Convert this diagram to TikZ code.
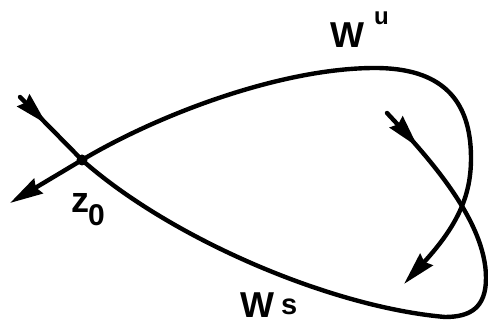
\documentclass[tikz,border=0pt]{standalone}
\usepackage{fontspec}
\setmainfont{Liberation Sans}
\usepackage{tikz}
\usetikzlibrary{arrows.meta,decorations.markings}
\newcommand{\LabBig}{\fontsize{36}{40}\selectfont\bfseries}
\newcommand{\LabSup}{\fontsize{24}{28}\selectfont\bfseries}
\newcommand{\LabSub}{\fontsize{29}{32}\selectfont\bfseries}
\newcommand{\LabIdx}{\fontsize{30}{32}\selectfont\bfseries}

\begin{document}
\begin{tikzpicture}[x=1pt,y=1pt,
    >={Stealth[length=33pt,width=17pt,inset=3pt]},
    mani/.style={line width=4.4pt, line cap=round, line join=round},
    inarrows/.style={postaction={decorate,decoration={markings,
        mark=at position 38pt with {\arrow{>}},
        mark=at position -46pt with {\arrowreversed{>}}}}},
    fixpt/.style={circle, fill=black, inner sep=0pt, minimum size=11pt},
    lbl/.style={anchor=base west, inner sep=0pt}]
  \useasboundingbox (0,0) rectangle (488,323);
  % points on the two manifolds
  \coordinate (z0) at (82,163);
  \coordinate (u0) at (10,120);
  \coordinate (top) at (375,255);
  \coordinate (rgt) at (471,165);
  \coordinate (u1) at (404,39);
  \coordinate (s0) at (20,226);
  \coordinate (bot) at (445,6);
  \coordinate (edge) at (486,45);
  \coordinate (s1) at (387,210);
  % unstable manifold
  \draw[mani,<->] (u0) -- (z0) .. controls (161,210) and (283,255) .. (top)
    .. controls (440,255) and (471,225) .. (rgt)
    .. controls (471,130) and (460,100) .. (u1);
  % stable manifold
  \draw[mani,inarrows] (s0) -- (z0) .. controls (170,85) and (330,16) .. (bot)
    .. controls (470,6) and (486,15) .. (edge)
    .. controls (486,103) and (426.6,167.6) .. (s1);
  \node[fixpt] (z0dot) at (z0) {};
  \node[lbl] (wu) at (330,275) {\LabBig W\hspace{10pt}\raisebox{23pt}{\LabSup u}};
  \node[lbl] (ws) at (240,5) {\LabBig W\hspace{7pt}\raisebox{3pt}{\LabSub s}};
  \node[lbl] (zlab) at (71,110) {\LabBig z\hspace{-1pt}\raisebox{-13pt}{\LabIdx 0}};
\end{tikzpicture}
\end{document}
